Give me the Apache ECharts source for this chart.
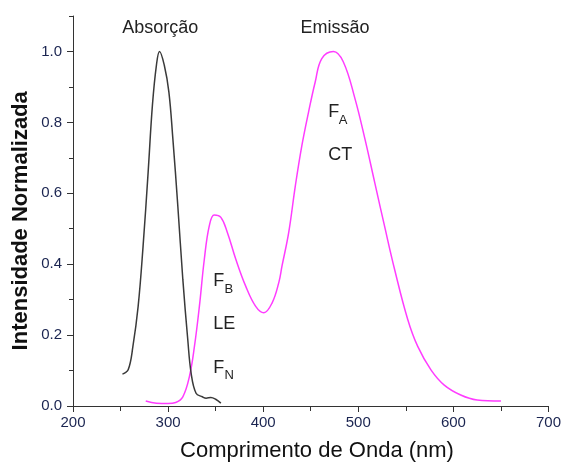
<!DOCTYPE html>
<html>
<head>
<meta charset="utf-8">
<script src="https://cdn.jsdelivr.net/npm/echarts@6/dist/echarts.min.js"></script>
<style>
html,body{margin:0;padding:0;background:#fff;}
#chart{width:564px;height:463px;}
</style>
</head>
<body>
<div id="chart"></div>
<script>
// Absorption spectrum (nm, normalized intensity)
const absX = [252, 258, 263, 268.5, 273.7, 279, 283.5, 287.7, 291, 296, 300.8, 305, 310.2, 315.5, 320.7, 324.2, 329.4, 336, 340, 345, 350, 355.5];
const absY = [0.090, 0.102, 0.168, 0.281, 0.451, 0.659, 0.848, 0.961, 1.000, 0.961, 0.886, 0.754, 0.565, 0.357, 0.187, 0.093, 0.036, 0.026, 0.022, 0.024, 0.019, 0.008];
// Emission spectrum
const emiX = [276.5, 287.7, 300, 308, 315.5, 322.4, 327.7, 332.9, 338.1, 343.3, 348.5, 355.5, 362.4, 371.2, 381.6, 392.1, 400.7, 409.4, 416.4, 419.8, 426.8, 433.8, 440.7, 447.7, 454.7, 461.6, 473.8, 484.2, 496.5, 506.9, 517.3, 527.8, 538.2, 552, 562.5, 576.4, 590.4, 607.7, 625, 650];
const emiY = [0.014, 0.008, 0.007, 0.010, 0.026, 0.083, 0.168, 0.281, 0.414, 0.508, 0.539, 0.532, 0.489, 0.414, 0.338, 0.281, 0.263, 0.291, 0.348, 0.395, 0.489, 0.621, 0.735, 0.829, 0.914, 0.980, 1.000, 0.971, 0.867, 0.754, 0.630, 0.505, 0.385, 0.244, 0.168, 0.102, 0.059, 0.031, 0.017, 0.014];
// Axis ticks
const xTicks = [200, 300, 400, 500, 600, 700];
const yTicks = [0.0, 0.2, 0.4, 0.6, 0.8, 1.0];
const yMinorTicks = [0.1, 0.3, 0.5, 0.7, 0.9, 1.1];
const xName = 'Comprimento de Onda (nm)';
const yName = 'Intensidade Normalizada';

const FONT = '"Liberation Sans", Arial, sans-serif';
const axisCol = '#333333';
const labelCol = '#1a2450';

const chart = echarts.init(document.getElementById('chart'), null, {renderer: 'canvas'});

const pair = (xs, ys) => xs.map((x, i) => [x, ys[i]]);

function txt(x, y, text, size, extra) {
  return Object.assign({
    type: 'text', x: x, y: y,
    style: { text: text, font: size + 'px ' + FONT, fill: '#222', align: 'left', verticalAlign: 'middle' }
  }, extra || {});
}

chart.setOption({
  animation: false,
  backgroundColor: '#ffffff',
  grid: { left: 73, right: 12, top: 16, bottom: 57, containLabel: false },
  xAxis: {
    type: 'value', min: xTicks[0], max: xTicks[xTicks.length - 1], interval: 100,
    axisLine: { show: true, onZero: false, lineStyle: { color: axisCol, width: 1 } },
    axisTick: { show: true, inside: false, length: 6, lineStyle: { color: axisCol } },
    minorTick: { show: true, splitNumber: 2, length: 5, lineStyle: { color: axisCol } },
    splitLine: { show: false },
    axisLabel: { color: labelCol, fontSize: 15, fontFamily: FONT, margin: 9 }
  },
  yAxis: [{
    type: 'value', min: 0, max: 1.1,
    axisLine: { show: true, onZero: false, lineStyle: { color: axisCol, width: 1 } },
    axisTick: { show: true, inside: false, length: 6, customValues: yTicks, lineStyle: { color: axisCol } },
    splitLine: { show: false },
    axisLabel: { color: labelCol, fontSize: 15, fontFamily: FONT, margin: 11, customValues: yTicks,
      formatter: v => v.toFixed(1) }
  }, {
    type: 'value', min: 0, max: 1.1, position: 'left',
    axisLine: { show: false },
    axisTick: { show: true, inside: false, length: 4, customValues: yMinorTicks, lineStyle: { color: axisCol } },
    splitLine: { show: false },
    axisLabel: { show: false }
  }],
  series: [{
    type: 'line', data: pair(absX, absY), showSymbol: false, smooth: 0.4,
    lineStyle: { color: '#3a3a3a', width: 1.5 }, z: 3
  }, {
    type: 'line', data: pair(emiX, emiY), showSymbol: false, smooth: 0.4,
    lineStyle: { color: '#ff3cff', width: 1.5 }, z: 2
  }],
  graphic: [
    txt(160.3, 28.3, 'Absorção', 18, {style: { text: 'Absorção', font: '18px ' + FONT, fill: '#222', align: 'center', verticalAlign: 'middle' }}),
    txt(335, 28.3, 'Emissão', 18, {style: { text: 'Emissão', font: '18px ' + FONT, fill: '#222', align: 'center', verticalAlign: 'middle' }}),
    txt(328.3, 112.5, 'F', 18),
    txt(338.8, 120.5, 'A', 13),
    txt(328.3, 155.5, 'CT', 18),
    txt(213.3, 280.7, 'F', 18),
    txt(224.5, 289.5, 'B', 13),
    txt(213.3, 324, 'LE', 18),
    txt(213.3, 367.9, 'F', 18),
    txt(224.5, 375, 'N', 13),
    { type: 'text', x: 317, y: 450.6,
      style: { text: xName, font: '22px ' + FONT, fill: '#111', align: 'center', verticalAlign: 'middle' } },
    { type: 'text', x: 20.5, y: 220.8, rotation: Math.PI / 2,
      style: { text: yName, font: 'bold 22px ' + FONT, fill: '#111', align: 'center', verticalAlign: 'middle' } }
  ]
});
</script>
</body>
</html>
